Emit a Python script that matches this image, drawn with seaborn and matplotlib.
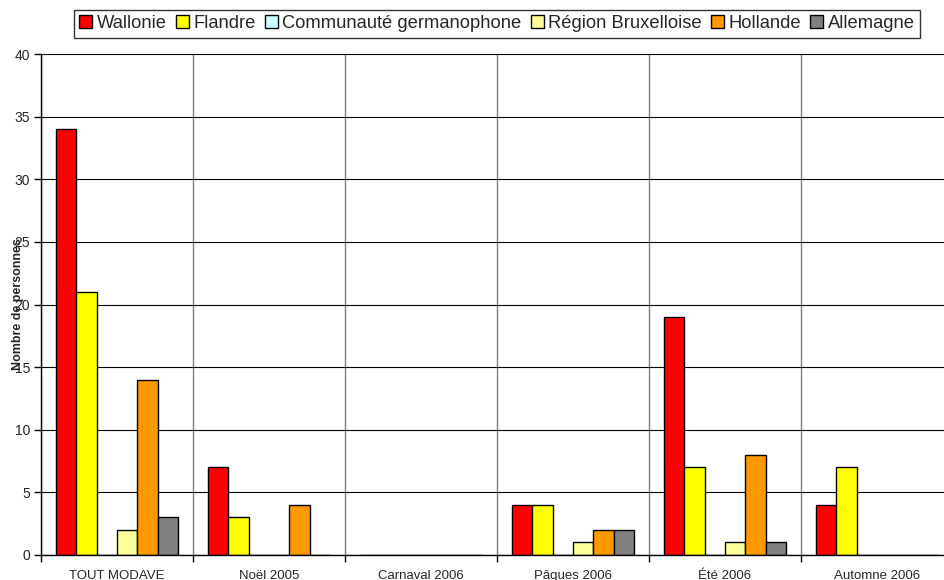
import matplotlib
matplotlib.use("Agg")
import matplotlib.pyplot as plt
import seaborn as sns
import pandas as pd

categories = ["TOUT MODAVE", "Noël 2005", "Carnaval 2006", "Pâques 2006", "Été 2006", "Automne 2006"]
regions = ["Wallonie", "Flandre", "Communauté germanophone", "Région Bruxelloise", "Hollande", "Allemagne"]
wallonie = [34, 7, 0, 4, 19, 4]
flandre = [21, 3, 0, 4, 7, 7]
germanophone = [0, 0, 0, 0, 0, 0]
bruxelloise = [2, 0, 0, 1, 1, 0]
hollande = [14, 4, 0, 2, 8, 0]
allemagne = [3, 0, 0, 2, 1, 0]
colors = ["#FF0000", "#FFFF00", "#CCFFFF", "#FFFF99", "#FF9900", "#808080"]
yticks = [0, 5, 10, 15, 20, 25, 30, 35, 40]

series = [wallonie, flandre, germanophone, bruxelloise, hollande, allemagne]
rows = []
for reg, vals in zip(regions, series):
    for cat, v in zip(categories, vals):
        rows.append({"cat": cat, "region": reg, "val": v})
df = pd.DataFrame(rows)

sns.set_style("white")
plt.rcParams["font.family"] = ["Liberation Sans", "DejaVu Sans"]

fig = plt.figure(figsize=(9.44, 5.8), dpi=100)
ax = fig.add_axes([41/944, 25/580, 912/944, 501/580])

sns.barplot(data=df, x="cat", y="val", hue="region", order=categories,
            hue_order=regions, palette=colors, saturation=1, edgecolor="black", linewidth=1,
            width=0.8, ax=ax, legend=False, errorbar=None)

ax.set_xlim(-0.5, 5.5)
ax.set_ylim(0, 40)
ax.set_yticks(yticks)
ax.set_yticklabels([str(t) for t in yticks], fontsize=10)
ax.tick_params(axis="y", direction="out", length=5, width=1, color="black", pad=3, left=True)
ax.set_xticks(range(len(categories)))
ax.set_xticklabels(categories, fontsize=9.5)
ax.tick_params(axis="x", which="major", length=0, pad=10.5)
ax.set_xticks([i - 0.5 for i in range(len(categories) + 1)], minor=True)
ax.tick_params(axis="x", which="minor", direction="out", length=5, width=1, color="black", bottom=True)

ax.yaxis.grid(True, color="black", linewidth=0.8)
ax.xaxis.grid(True, which="minor", color="#808080", linewidth=1)
ax.xaxis.grid(False, which="major")
ax.set_axisbelow(True)

for s in ["top", "right"]:
    ax.spines[s].set_visible(False)
for s in ["left", "bottom"]:
    ax.spines[s].set_color("black")
    ax.spines[s].set_linewidth(1)

ax.set_xlabel("")
ax.set_ylabel("Nombre de personnes", fontsize=9, fontweight="bold")
ax.yaxis.set_label_coords(-0.019, 0.5)

handles = [plt.Rectangle((0, 0), 1, 1, facecolor=c, edgecolor="black", linewidth=1) for c in colors]
leg = fig.legend(handles, regions, loc="center", bbox_to_anchor=(497/944, 1 - 23.5/580),
                 bbox_transform=fig.transFigure, ncol=6, fontsize=13.2, frameon=True,
                 fancybox=False, edgecolor="black", handlelength=0.7, handleheight=0.7,
                 handletextpad=0.25, columnspacing=0.5, borderpad=0.3, borderaxespad=0)
leg.get_frame().set_linewidth(1)

fig.savefig("out.png", dpi=100)
